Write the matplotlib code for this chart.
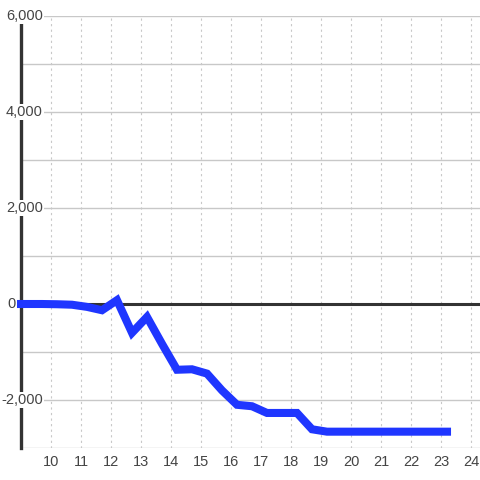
import matplotlib
matplotlib.use("Agg")
import matplotlib.pyplot as plt

plt.rcParams['font.family'] = ['Liberation Sans', 'DejaVu Sans']

x = [9.0, 9.2, 9.7, 10.2, 10.7, 11.2, 11.7, 12.2, 12.7, 13.2, 13.7, 14.2, 14.7,
     15.2, 15.7, 16.2, 16.7, 17.2, 17.7, 18.2, 18.7, 19.2, 19.7, 20.2, 20.7,
     21.2, 21.7, 22.2, 22.7, 23.2]
y = [0, 0, 0, -5, -15, -60, -130, 80, -600, -270, -830, -1370, -1360,
     -1450, -1800, -2100, -2130, -2270, -2270, -2270, -2610, -2660, -2660,
     -2660, -2660, -2660, -2660, -2660, -2660, -2660]
xticks = list(range(10, 25))
yticks = [-2000, 0, 2000, 4000, 6000]

fig = plt.figure(figsize=(4.8, 4.8), dpi=100)
ax = fig.add_axes([21/480, 32/480, 459/480, 432/480])
ax.set_xlim(9, 24.3)
ax.set_ylim(-3000, 6000)

for v in range(-3000, 6001, 1000):
    ax.axhline(v, color='#c8c8c8', lw=1, zorder=1)
for v in xticks:
    ax.axvline(v, color='#c8c8c8', lw=0.8, ls=(0, (2, 3)), zorder=1)
ax.axhline(0, color='#333333', lw=2.2, zorder=1.5)

ax.plot(x, y, color='#1f36ff', lw=5.8, zorder=4, solid_joinstyle='miter',
        solid_capstyle='projecting', clip_on=False)

for s in ['top', 'right', 'bottom']:
    ax.spines[s].set_visible(False)
ax.spines['left'].set_color('#333333')
ax.spines['left'].set_linewidth(2.4)
ax.spines['left'].set_zorder(2)

ax.set_yticks([])
for v in yticks:
    # the zero label sits left of the axis line, the others overlap it
    xpos = -5/459 if v == 0 else 22/459
    ax.text(xpos, v, f"{v:,}", transform=ax.get_yaxis_transform(),
            ha='right', va='center', fontsize=10.5, color='#444444',
            bbox=dict(facecolor='white', edgecolor='none', pad=0.5),
            zorder=3, clip_on=False)

ax.set_xticks(xticks)
ax.set_xticklabels([str(t) for t in xticks])
ax.tick_params(axis='x', length=0, pad=5, labelsize=10.5, labelcolor='#444444')

fig.savefig('out.png', dpi=100)
